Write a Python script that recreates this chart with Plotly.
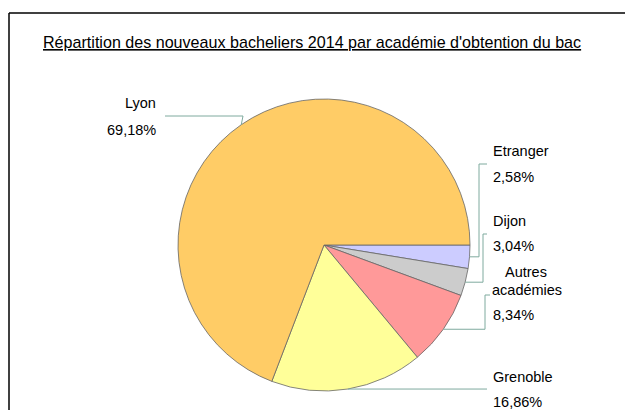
import math
import plotly.graph_objects as go

# Data
categories = ["Etranger", "Dijon", "Autres académies", "Grenoble", "Lyon"]
values = [2.58, 3.04, 8.34, 16.86, 69.18]
value_labels = ["2,58%", "3,04%", "8,34%", "16,86%", "69,18%"]
colors = ["#CCCCFF", "#CCCCCC", "#FF9999", "#FFFF99", "#FFCC66"]
title_text = "Répartition des nouveaux bacheliers 2014 par académie d'obtention du bac"

W, H = 625, 410
CX, CY, R = 324, 245, 146
FONT = "Liberation Sans, Arial, sans-serif"
LEADER = "#7FAA9E"


def px(x):
    return x / W


def py(y):
    return 1 - y / H


fig = go.Figure(go.Pie(
    labels=categories,
    values=values,
    sort=False,
    direction="clockwise",
    rotation=90,
    textinfo="none",
    hoverinfo="label+percent",
    marker=dict(colors=colors, line=dict(color="#666666", width=0.8)),
    domain=dict(x=[px(CX - R), px(CX + R)], y=[py(CY + R), py(CY - R)]),
    showlegend=False,
))

# Slice mid points (computed from the data) for leader lines
total = sum(values)
mids = []
cum = 0
for v in values:
    a = math.radians((cum + v / 2) / total * 360)
    mids.append((CX + R * math.cos(a), CY + R * math.sin(a)))
    cum += v

shapes = []


def seg(x0, y0, x1, y1, color=LEADER, width=1):
    shapes.append(dict(type="line", xref="paper", yref="paper",
                       x0=px(x0), y0=py(y0), x1=px(x1), y1=py(y1),
                       line=dict(color=color, width=width)))


# Leader lines
# Etranger
mx, my = mids[0]
seg(mx, my, 479, my); seg(479, my, 479, 164); seg(479, 164, 487, 164)
# Dijon
mx, my = mids[1]
seg(mx, my, 483, my); seg(483, my, 483, 234); seg(483, 234, 487, 234)
# Autres
mx, my = mids[2]
seg(mx, my, 485, my); seg(485, my, 485, 295); seg(485, 295, 490, 295)
# Grenoble
mx, my = mids[3]
seg(mx, my, 487, my)
# Lyon
mx, my = mids[4]
seg(mx, my, 243, 116); seg(243, 116, 165, 116)

# Frame
seg(9, 13, 9, 420, color="black", width=1.5)
seg(9, 13, 640, 13, color="black", width=1.5)

annotations = []


def txt(text, x, y, xanchor="left"):
    annotations.append(dict(text=text, x=px(x), y=py(y), xref="paper", yref="paper",
                            xanchor=xanchor, yanchor="middle", showarrow=False,
                            font=dict(family=FONT, size=14.5, color="black")))


txt(categories[4], 158, 103, "right")
txt(value_labels[4], 158, 130, "right")
txt(categories[0], 491, 151)
txt(value_labels[0], 491, 177)
txt(categories[1], 491, 221)
txt(value_labels[1], 491, 246)
txt("Autres", 526, 272, "center")
txt("académies", 527, 290, "center")
txt(value_labels[2], 491, 315)
txt(categories[3], 491, 377)
txt(value_labels[3], 491, 402)

annotations.append(dict(text="<u>" + title_text + "</u>", x=px(312), y=py(42),
                        xref="paper", yref="paper", xanchor="center", yanchor="middle",
                        showarrow=False,
                        font=dict(family=FONT, size=16.1, color="black")))

fig.update_layout(
    width=W, height=H,
    margin=dict(l=0, r=0, t=0, b=0),
    paper_bgcolor="white", plot_bgcolor="white",
    shapes=shapes, annotations=annotations,
)

fig.write_html("out.html", config={"displayModeBar": False},
               post_script="document.body.style.margin='0px';document.body.style.overflow='hidden';")
